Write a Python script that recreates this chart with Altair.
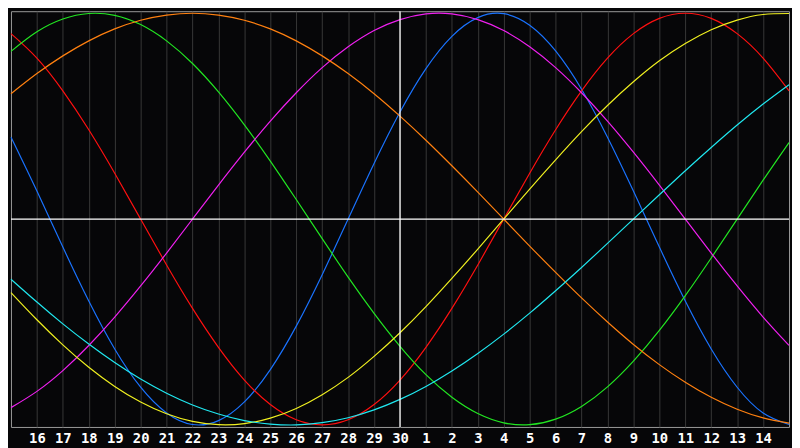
import altair as alt
import pandas as pd

# days shown: 15th of one month through 15th of the next (30-day month)
DAYS = list(range(31))
DAY_LABELS = [15, 16, 17, 18, 19, 20, 21, 22, 23, 24, 25, 26, 27, 28, 29, 30,
              1, 2, 3, 4, 5, 6, 7, 8, 9, 10, 11, 12, 13, 14, 15]
TODAY = 15  # index of the 30th

# cycle values per day (-1 .. 1)
PHYSICAL = [0.398, 0.136, -0.136, -0.398, -0.631, -0.817, -0.942, -0.998, -0.979, -0.888,
            -0.731, -0.520, -0.270, 0.000, 0.270, 0.520, 0.731, 0.888, 0.979, 0.998,
            0.942, 0.817, 0.631, 0.398, 0.136, -0.136, -0.398, -0.631, -0.817, -0.942, -0.998]
EMOTIONAL = [0.901, 0.782, 0.623, 0.434, 0.223, 0.000, -0.223, -0.434, -0.623, -0.782,
             -0.901, -0.975, -1.000, -0.975, -0.901, -0.782, -0.623, -0.434, -0.223, 0.000,
             0.223, 0.434, 0.623, 0.782, 0.901, 0.975, 1.000, 0.975, 0.901, 0.782, 0.623]
INTELLECTUAL = [0.815, 0.910, 0.972, 0.999, 0.990, 0.945, 0.866, 0.756, 0.618, 0.458,
                0.282, 0.095, -0.095, -0.282, -0.458, -0.618, -0.756, -0.866, -0.945, -0.990,
                -0.999, -0.972, -0.910, -0.815, -0.690, -0.541, -0.372, -0.189, 0.000, 0.189, 0.372]
INTUITIVE = [-0.916, -0.837, -0.736, -0.614, -0.476, -0.325, -0.165, 0.000, 0.165, 0.325,
             0.476, 0.614, 0.736, 0.837, 0.916, 0.969, 0.997, 0.997, 0.969, 0.916,
             0.837, 0.736, 0.614, 0.476, 0.325, 0.165, 0.000, -0.165, -0.325, -0.476, -0.614]
AESTHETIC = [-0.357, -0.489, -0.611, -0.720, -0.813, -0.889, -0.946, -0.983, -0.999, -0.994,
             -0.967, -0.920, -0.853, -0.769, -0.667, -0.552, -0.425, -0.288, -0.146, 0.000,
             0.146, 0.288, 0.425, 0.552, 0.667, 0.769, 0.853, 0.920, 0.967, 0.994, 0.999]
AWARENESS = [0.609, 0.707, 0.793, 0.866, 0.924, 0.966, 0.991, 1.000, 0.991, 0.966,
             0.924, 0.866, 0.793, 0.707, 0.609, 0.500, 0.383, 0.259, 0.131, 0.000,
             -0.131, -0.259, -0.383, -0.500, -0.609, -0.707, -0.793, -0.866, -0.924, -0.966, -0.991]
SPIRITUAL = [-0.292, -0.403, -0.509, -0.607, -0.697, -0.777, -0.846, -0.903, -0.947, -0.979,
             -0.996, -1.000, -0.989, -0.965, -0.927, -0.876, -0.813, -0.738, -0.653, -0.559,
             -0.457, -0.348, -0.235, -0.118, 0.000, 0.118, 0.235, 0.348, 0.457, 0.559, 0.653]

CYCLES = ["Physical", "Emotional", "Intellectual", "Intuitive",
          "Aesthetic", "Awareness", "Spiritual"]
COLORS = ["#1a73ff", "#ff1010", "#22e622", "#f020f0",
          "#f0f020", "#ff8010", "#20e8f0"]
SERIES = [PHYSICAL, EMOTIONAL, INTELLECTUAL, INTUITIVE,
          AESTHETIC, AWARENESS, SPIRITUAL]

rows = []
for name, values in zip(CYCLES, SERIES):
    for t, v in zip(DAYS, values):
        rows.append({"cycle": name, "t": t, "value": v})
data = pd.DataFrame(rows)

x_scale = alt.Scale(domain=[0, 30], nice=False)
y_scale = alt.Scale(domain=[-1.01, 1.01], nice=False)
x_axis = alt.Axis(
    values=DAYS[1:-1],
    labelExpr=f"{DAY_LABELS}[datum.value]",
    labelOverlap=False,
    labelBound=False,
)

lines = (
    alt.Chart(data)
    .mark_line(strokeWidth=1.2, interpolate="natural")
    .encode(
        x=alt.X("t:Q", scale=x_scale, title=None, axis=x_axis),
        y=alt.Y("value:Q", scale=y_scale, axis=None),
        color=alt.Color("cycle:N", scale=alt.Scale(domain=CYCLES, range=COLORS), legend=None),
        detail="cycle:N",
    )
)

zero_line = (
    alt.Chart(pd.DataFrame({"value": [0]}))
    .mark_rule(color="#ffffff", strokeWidth=1.3)
    .encode(y=alt.Y("value:Q", scale=y_scale, axis=None))
)
today_line = (
    alt.Chart(pd.DataFrame({"t": [TODAY]}))
    .mark_rule(color="#ffffff", strokeWidth=1.3)
    .encode(x=alt.X("t:Q", scale=x_scale, title=None, axis=x_axis))
)

chart = (
    alt.layer(lines, today_line, zero_line)
    .properties(
        width=792,
        height=440,
        padding=0,
        background="#060608",
        autosize=alt.AutoSizeParams(type="fit", contains="padding"),
    )
    .configure_view(fill="#060608", stroke="#9a9a9a", strokeWidth=1)
    .configure_axis(
        grid=True,
        gridColor="#383838",
        gridWidth=1,
        domain=False,
        ticks=False,
        labelColor="#ffffff",
        labelFont="DejaVu Sans Mono",
        labelFontWeight="bold",
        labelFontSize=14,
        labelPadding=5,
        labelOverlap=False,
    )
)

chart.save("out.html", embed_options={"renderer": "svg", "actions": False})
